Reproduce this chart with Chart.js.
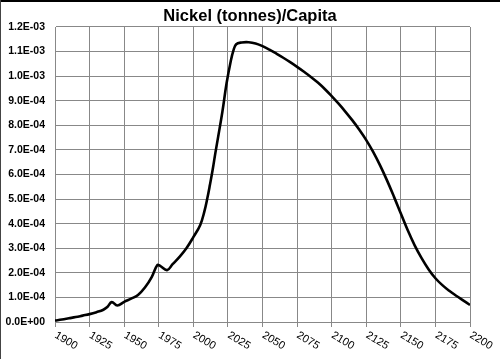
<!DOCTYPE html>
<html>
<head>
<meta charset="utf-8">
<script src="https://cdn.jsdelivr.net/npm/chart.js@4/dist/chart.umd.min.js"></script>
<style>
html,body{margin:0;padding:0;background:#fff;}
#wrap{position:relative;width:500px;height:359px;}
canvas{display:block;}
</style>
</head>
<body>
<div id="wrap"><canvas id="c" width="500" height="359"></canvas></div>
<script>
const chartTitle = 'Nickel (tonnes)/Capita';
const years = [1900,1905,1910,1915,1920,1925,1930,1935,1938,1941,1945,1950,1955,1960,1965,1970,1974,1976,1981,1985,1990,1995,2000,2005,2008,2010,2012,2014,2016,2018,2021,2024,2027,2029,2031,2035,2040,2045,2050,2055,2060,2065,2070,2075,2080,2085,2090,2095,2100,2105,2110,2115,2120,2125,2130,2135,2140,2145,2150,2155,2160,2165,2170,2175,2180,2185,2190,2195,2200];
const nickelPerCapita = [0.06e-4,0.10e-4,0.15e-4,0.20e-4,0.26e-4,0.32e-4,0.40e-4,0.50e-4,0.62e-4,0.81e-4,0.67e-4,0.82e-4,0.95e-4,1.10e-4,1.40e-4,1.84e-4,2.32e-4,2.28e-4,2.11e-4,2.35e-4,2.65e-4,3.00e-4,3.45e-4,3.95e-4,4.50e-4,5.00e-4,5.58e-4,6.20e-4,6.90e-4,7.55e-4,8.55e-4,9.70e-4,10.60e-4,11.05e-4,11.30e-4,11.37e-4,11.38e-4,11.33e-4,11.22e-4,11.08e-4,10.92e-4,10.75e-4,10.57e-4,10.38e-4,10.18e-4,9.97e-4,9.74e-4,9.48e-4,9.19e-4,8.88e-4,8.55e-4,8.20e-4,7.82e-4,7.40e-4,6.92e-4,6.37e-4,5.76e-4,5.10e-4,4.41e-4,3.73e-4,3.12e-4,2.60e-4,2.15e-4,1.78e-4,1.50e-4,1.27e-4,1.07e-4,0.88e-4,0.69e-4];
const xTickLabels = [1900,1925,1950,1975,2000,2025,2050,2075,2100,2125,2150,2175,2200];
const yTickLabels = ['0.0E+00','1.0E-04','2.0E-04','3.0E-04','4.0E-04','5.0E-04','6.0E-04','7.0E-04','8.0E-04','9.0E-04','1.0E-03','1.1E-03','1.2E-03'];

const points = years.map((y,i)=>({x:y, y:nickelPerCapita[i]}));

const framePlugin = {
  id:'frame',
  beforeDraw(chart){
    const ctx = chart.ctx;
    ctx.save();
    ctx.fillStyle='#fff';
    ctx.fillRect(0,0,chart.width,chart.height);
    ctx.restore();
  },
  afterDraw(chart){
    const ctx = chart.ctx;
    const xs = chart.scales.x;
    ctx.save();
    ctx.fillStyle='#000';
    ctx.font='bold 16.5px "Liberation Sans", Arial, sans-serif';
    ctx.textAlign='center';
    ctx.textBaseline='middle';
    ctx.fillText(chartTitle, 250, 16);
    ctx.font='11px "Liberation Sans", Arial, sans-serif';
    ctx.textAlign='left';
    ctx.textBaseline='alphabetic';
    xTickLabels.forEach(v=>{
      const px = xs.getPixelForValue(v);
      ctx.save();
      ctx.translate(px-1, chart.chartArea.bottom + 15);
      ctx.rotate(31*Math.PI/180);
      ctx.fillText(String(v), 0, 0);
      ctx.restore();
    });
    ctx.fillStyle='#000';
    ctx.fillRect(0,0,chart.width,2);
    ctx.fillStyle='#444';
    ctx.fillRect(0,0,1,chart.height);
    ctx.restore();
  }
};

new Chart(document.getElementById('c'), {
  type:'line',
  data:{datasets:[{
    data: points,
    borderColor:'#000',
    borderWidth:2.6,
    pointRadius:0,
    fill:false,
    tension:0.4
  }]},
  options:{
    responsive:false,
    animation:false,
    events:[],
    layout:{padding:{top:27,right:30,bottom:0,left:0}},
    plugins:{legend:{display:false},title:{display:false},tooltip:{enabled:false}},
    scales:{
      x:{
        type:'linear',
        min:1900,max:2200,
        afterFit(s){ s.height = 37; },
        afterBuildTicks(s){ s.ticks = xTickLabels.map(v=>({value:v})); },
        ticks:{display:false},
        grid:{color:'#888',lineWidth:1,drawTicks:true,tickLength:5,tickColor:'#888'},
        border:{color:'#888',width:1}
      },
      y:{
        min:0,max:1.2e-3,
        afterFit(s){ s.width = 55; },
        afterBuildTicks(s){ s.ticks = yTickLabels.map((t,i)=>({value:i*1e-4})); },
        ticks:{
          callback:(v,i)=>yTickLabels[i],
          color:'#000',
          font:{family:'"Liberation Sans", Arial, sans-serif',size:10.5,weight:'bold'},
          padding:10
        },
        grid:{color:'#888',lineWidth:1,drawTicks:false},
        border:{color:'#888',width:1}
      }
    }
  },
  plugins:[framePlugin]
});
</script>
</body>
</html>
